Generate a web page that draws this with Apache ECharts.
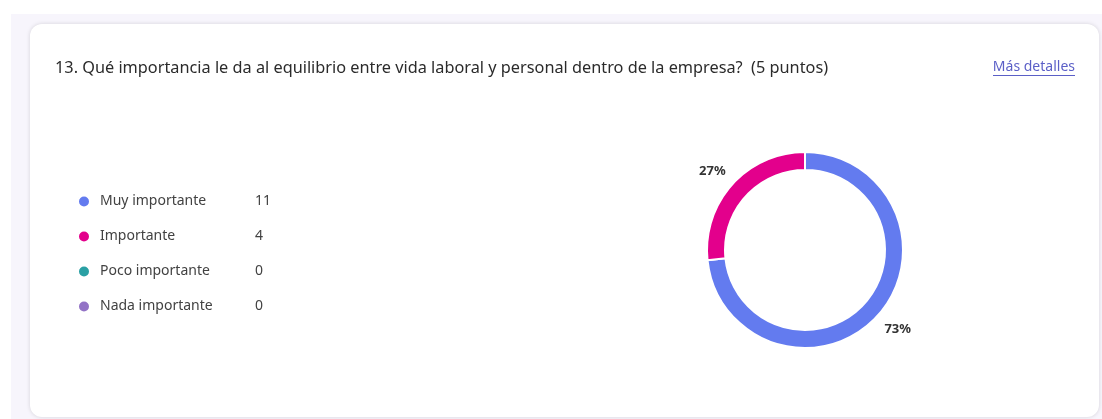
<!DOCTYPE html>
<html>
<head>
<meta charset="utf-8">
<script src="https://cdn.jsdelivr.net/npm/echarts@6/dist/echarts.min.js"></script>
<style>
  html, body { margin: 0; padding: 0; background: #ffffff; }
  #page { position: absolute; left: 11px; top: 14px; right: 0; bottom: 0; background: #f7f5fc; }
  #card { position: absolute; left: 30px; top: 24px; width: 1069px; height: 393px; background: #ffffff;
          border-radius: 12px; box-shadow: 0 0 4px rgba(0,0,0,0.14); }
  #chart { position: absolute; left: 0; top: 0; width: 1102px; height: 419px; }
</style>
</head>
<body>
<div id="page"></div>
<div id="card"></div>
<div id="chart"></div>
<script>
  // datos de la pregunta 13
  var question = '13. Qué importancia le da al equilibrio entre vida laboral y personal dentro de la empresa?  (5 puntos)';
  var categories = ['Muy importante', 'Importante', 'Poco importante', 'Nada importante'];
  var counts = [11, 4, 0, 0];
  var colors = ['#637bef', '#e3008c', '#2aa0a4', '#9373c6'];

  var pieData = [];
  for (var i = 0; i < categories.length; i++) {
    pieData.push({ name: categories[i], value: counts[i], itemStyle: { color: colors[i] } });
  }

  var myChart = echarts.init(document.getElementById('chart'));
  myChart.setOption({
    backgroundColor: 'transparent',
    textStyle: { fontFamily: 'Noto Sans' },
    title: [{
      text: question,
      left: 55,
      top: 60,
      padding: 0,
      textStyle: { fontSize: 16.3, fontWeight: 'normal', color: '#2b2b2b', fontFamily: 'Noto Sans' }
    }, {
      text: 'Más detalles',
      link: '#',
      right: 27,
      top: 60,
      padding: 0,
      textStyle: { fontSize: 14, fontWeight: 'normal', color: '#5b5fc7', fontFamily: 'Noto Sans' }
    }],
    graphic: [{
      type: 'rect',
      right: 27,
      top: 75,
      shape: { width: 82, height: 1 },
      style: { fill: '#5b5fc7' }
    }],
    legend: {
      orient: 'vertical',
      left: 72,
      top: 189.5,
      icon: 'circle',
      itemWidth: 22,
      itemHeight: 12,
      itemGap: 21,
      selectedMode: false,
      formatter: function (name) {
        var idx = categories.indexOf(name);
        return '{n|' + name + '}{v|' + counts[idx] + '}';
      },
      textStyle: {
        rich: {
          n: { width: 155, fontSize: 14, lineHeight: 18, color: '#424242', fontFamily: 'Noto Sans' },
          v: { fontSize: 14, lineHeight: 18, color: '#424242', fontFamily: 'Noto Sans' }
        }
      }
    },
    series: [{
      type: 'pie',
      center: [805, 250],
      radius: [80, 98],
      startAngle: 90,
      percentPrecision: 0,
      avoidLabelOverlap: false,
      itemStyle: { borderColor: '#ffffff', borderWidth: 2 },
      label: {
        show: true,
        position: 'outside',
        fontSize: 13,
        fontWeight: 'bold',
        color: '#333333',
        fontFamily: 'Noto Sans',
        formatter: function (p) { return p.value ? p.percent + '%' : ''; }
      },
      labelLine: { show: false, length: 20, length2: 0 },
      labelLayout: { align: 'center' },
      emphasis: { disabled: true },
      data: pieData
    }]
  });
</script>
</body>
</html>
